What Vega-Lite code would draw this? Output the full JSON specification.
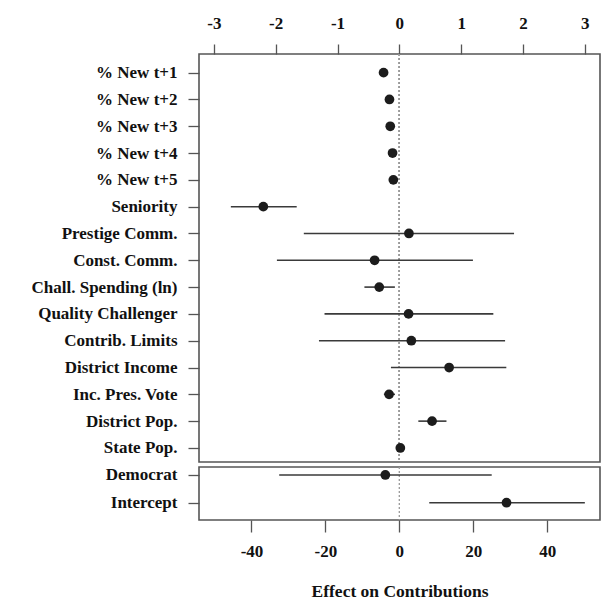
{
  "$schema": "https://vega.github.io/schema/vega-lite/v6.json",
  "padding": {"left": 0, "top": 0, "right": 5, "bottom": 0},
  "background": "white",
  "spacing": 5,
  "bounds": "flush",
  "config": {
    "view": {"stroke": "#555", "strokeWidth": 1.6},
    "font": "Liberation Serif",
    "axis": {
      "labelFont": "Liberation Serif", "labelFontWeight": "bold", "labelFontSize": 17, "labelColor": "#111",
      "tickColor": "#555", "tickWidth": 1.3, "domain": false, "grid": false,
      "titleFont": "Liberation Serif", "titleFontWeight": "bold", "titleFontSize": 17.5, "titleColor": "#111"
    }
  },
  "datasets": {
    "top": [
      {"term": "% New t+1", "est": -0.255, "lo": -0.28, "hi": -0.23},
      {"term": "% New t+2", "est": -0.16, "lo": -0.185, "hi": -0.135},
      {"term": "% New t+3", "est": -0.147, "lo": -0.17, "hi": -0.125},
      {"term": "% New t+4", "est": -0.11, "lo": -0.135, "hi": -0.085},
      {"term": "% New t+5", "est": -0.097, "lo": -0.12, "hi": -0.075},
      {"term": "Seniority", "est": -2.2, "lo": -2.725, "hi": -1.66},
      {"term": "Prestige Comm.", "est": 0.155, "lo": -1.545, "hi": 1.855},
      {"term": "Const. Comm.", "est": -0.4, "lo": -1.98, "hi": 1.19},
      {"term": "Chall. Spending (ln)", "est": -0.325, "lo": -0.565, "hi": -0.072},
      {"term": "Quality Challenger", "est": 0.149, "lo": -1.21, "hi": 1.52},
      {"term": "Contrib. Limits", "est": 0.194, "lo": -1.3, "hi": 1.71},
      {"term": "District Income", "est": 0.805, "lo": -0.136, "hi": 1.73},
      {"term": "Inc. Pres. Vote", "est": -0.166, "lo": -0.25, "hi": -0.07},
      {"term": "District Pop.", "est": 0.529, "lo": 0.307, "hi": 0.762},
      {"term": "State Pop.", "est": 0.016, "lo": -0.01, "hi": 0.04}
    ],
    "bottom": [
      {"term": "Democrat", "est": -3.78, "lo": -32.5, "hi": 25.0},
      {"term": "Intercept", "est": 29.0, "lo": 8.1, "hi": 50.2}
    ]
  },
  "vconcat": [
    {
      "width": 401,
      "height": 408,
      "data": {"name": "top"},
      "encoding": {
        "y": {
          "field": "term", "type": "nominal",
          "sort": ["% New t+1", "% New t+2", "% New t+3", "% New t+4", "% New t+5", "Seniority", "Prestige Comm.", "Const. Comm.", "Chall. Spending (ln)", "Quality Challenger", "Contrib. Limits", "District Income", "Inc. Pres. Vote", "District Pop.", "State Pop."],
          "scale": {"type": "point", "padding": 0.61, "align": 0.57},
          "axis": {"title": null, "tickSize": 11, "labelPadding": 11, "minExtent": 198, "maxExtent": 198}
        }
      },
      "layer": [
        {
          "mark": {"type": "rule", "strokeDash": [2, 2], "color": "#9a9a9a", "strokeWidth": 1},
          "encoding": {"x": {"datum": 0, "type": "quantitative"}, "y": null}
        },
        {
          "mark": {"type": "rule", "color": "#3a3a3a", "strokeWidth": 1.6},
          "encoding": {
            "x": {"field": "lo", "type": "quantitative",
                  "scale": {"domain": [-3.24, 3.245], "nice": false, "zero": false},
                  "axis": {"orient": "top", "values": [-3, -2, -1, 0, 1, 2, 3], "labelExpr": "'' + datum.value", "title": null, "tickSize": 10, "labelPadding": 12, "minExtent": 53, "maxExtent": 53}},
            "x2": {"field": "hi"}
          }
        },
        {
          "mark": {"type": "circle", "size": 95, "color": "#1c1c1c", "opacity": 1},
          "encoding": {"x": {"field": "est", "type": "quantitative"}}
        }
      ]
    },
    {
      "width": 401,
      "height": 53,
      "data": {"name": "bottom"},
      "encoding": {
        "y": {
          "field": "term", "type": "nominal",
          "sort": ["Democrat", "Intercept"],
          "scale": {"type": "point", "padding": 0.457, "align": 0.316},
          "axis": {"title": null, "tickSize": 11, "labelPadding": 11, "minExtent": 198, "maxExtent": 198}
        }
      },
      "layer": [
        {
          "mark": {"type": "rule", "strokeDash": [2, 2], "color": "#9a9a9a", "strokeWidth": 1},
          "encoding": {"x": {"datum": 0, "type": "quantitative"}, "y": null}
        },
        {
          "mark": {"type": "rule", "color": "#3a3a3a", "strokeWidth": 1.6},
          "encoding": {
            "x": {"field": "lo", "type": "quantitative",
                  "scale": {"domain": [-54.2, 54.3], "nice": false, "zero": false},
                  "axis": {"orient": "bottom", "values": [-40, -20, 0, 20, 40], "labelExpr": "'' + datum.value", "title": "Effect on Contributions", "tickSize": 12, "labelPadding": 11, "minExtent": 40, "maxExtent": 40, "titlePadding": 22}},
            "x2": {"field": "hi"}
          }
        },
        {
          "mark": {"type": "circle", "size": 95, "color": "#1c1c1c", "opacity": 1},
          "encoding": {"x": {"field": "est", "type": "quantitative"}}
        }
      ]
    }
  ]
}
